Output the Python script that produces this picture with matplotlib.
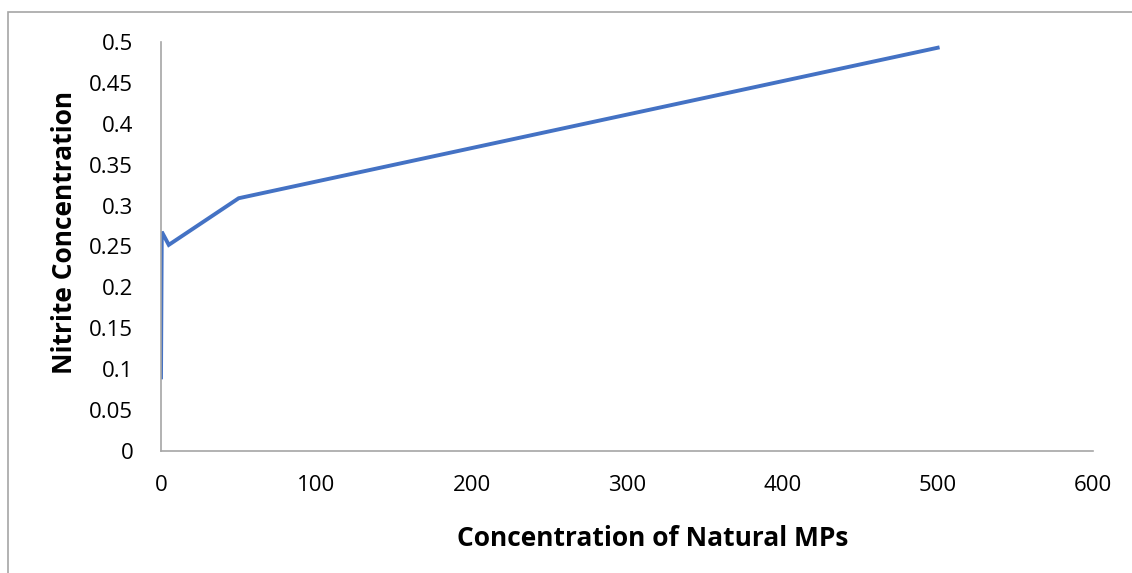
import matplotlib.pyplot as plt
from matplotlib.patches import Rectangle

conc = [0, 0.5, 5, 50, 500]
nitrite = [0.09, 0.268, 0.252, 0.309, 0.493]
xticks = [0, 100, 200, 300, 400, 500, 600]
yticks = [0, 0.05, 0.1, 0.15, 0.2, 0.25, 0.3, 0.35, 0.4, 0.45, 0.5]
ytick_labels = ['0', '0.05', '0.1', '0.15', '0.2', '0.25', '0.3', '0.35', '0.4', '0.45', '0.5']

plt.rcParams['font.family'] = ['Open Sans', 'DejaVu Sans']

W, H = 1132, 573
fig = plt.figure(figsize=(W/100, H/100), dpi=100)
# chart-area border: only top and left edges fall inside the picture
fig.patches.append(Rectangle((8/W, -0.1), 1.2, 1.1 - 12/H, transform=fig.transFigure,
                             fill=False, edgecolor='#a6a6a6', lw=1.2))

ax = fig.add_axes([161/W, 1-451/H, (1093-161)/W, (451-42)/H])
ax.plot(conc, nitrite, color='#4472c4', lw=2.8, solid_joinstyle='miter')

ax.set_xlim(0, 600)
ax.set_ylim(0, 0.5)
ax.set_xticks(xticks)
ax.set_yticks(yticks)
ax.set_yticklabels(ytick_labels)
ax.tick_params(length=0, labelsize=16)
ax.tick_params(axis='x', pad=17)
ax.tick_params(axis='y', pad=20)
for s in ['top', 'right']:
    ax.spines[s].set_visible(False)
for s in ['left', 'bottom']:
    ax.spines[s].set_color('#a6a6a6')
    ax.spines[s].set_linewidth(1.2)

fig.text(653/W, 1-538/H, 'Concentration of Natural MPs', fontsize=19, fontweight='bold',
         ha='center', va='center')
fig.text(65/W, 1-232/H, 'Nitrite Concentration', fontsize=19, fontweight='bold',
         ha='center', va='center', rotation=90)

fig.savefig('out.png', dpi=100)
